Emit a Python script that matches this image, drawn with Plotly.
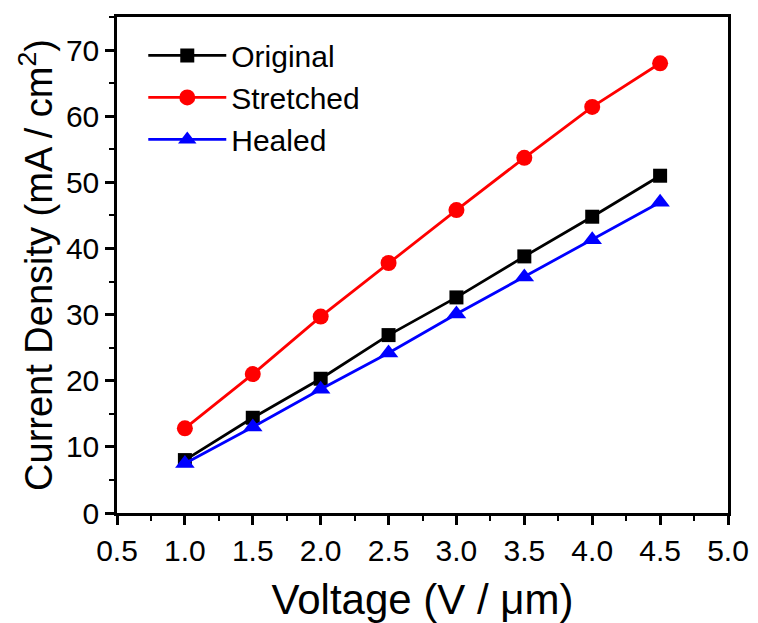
import plotly.graph_objects as go

voltage = [1.0, 1.5, 2.0, 2.5, 3.0, 3.5, 4.0, 4.5]
original = [8.0, 14.4, 20.3, 26.9, 32.6, 38.8, 44.8, 51.0]
stretched = [12.8, 21.0, 29.7, 37.8, 45.8, 53.7, 61.4, 68.0]
healed = [7.5, 13.0, 18.7, 24.2, 30.1, 35.7, 41.3, 47.0]

series = [
    ("Original", original, "#000000", "square", 14),
    ("Stretched", stretched, "#ff0000", "circle", 16),
    ("Healed", healed, "#0000ff", "triangle-up", 17),
]

fig = go.Figure()
for name, vals, color, sym, size in series:
    fig.add_trace(go.Scatter(
        x=voltage, y=vals, name=name, mode="lines+markers",
        line=dict(color=color, width=2.8),
        marker=dict(symbol=sym, size=size, color=color),
    ))

font_family = "Liberation Sans, Arial, sans-serif"
fig.update_layout(
    width=758, height=623,
    margin=dict(l=117, r=30, t=17, b=110),
    paper_bgcolor="white", plot_bgcolor="white",
    font=dict(family=font_family, color="black"),
    showlegend=True,
    legend=dict(
        x=0.043, y=0.975, xanchor="left", yanchor="top",
        font=dict(size=30, family=font_family),
        bgcolor="rgba(0,0,0,0)", itemwidth=78, tracegroupgap=0,
    ),
    xaxis=dict(
        range=[0.5, 5.0], tickvals=[0.5, 1.0, 1.5, 2.0, 2.5, 3.0, 3.5, 4.0, 4.5, 5.0],
        ticktext=["0.5", "1.0", "1.5", "2.0", "2.5", "3.0", "3.5", "4.0", "4.5", "5.0"],
        ticks="outside", ticklen=9, tickwidth=2.5, tickcolor="black",
        minor=dict(dtick=0.25, ticks="outside", ticklen=5, tickwidth=2, tickcolor="black", showgrid=False),
        showline=True, linewidth=2.5, linecolor="black", mirror=True,
        showgrid=False, zeroline=False, automargin=False,
        tickfont=dict(size=30, family=font_family),
        title=dict(text="Voltage (V / μm)", font=dict(size=42, family=font_family), standoff=20),
    ),
    yaxis=dict(
        range=[0, 75], tickvals=[0, 10, 20, 30, 40, 50, 60, 70],
        ticks="outside", ticklen=9, tickwidth=2.5, tickcolor="black",
        minor=dict(dtick=5, ticks="outside", ticklen=5, tickwidth=2, tickcolor="black", showgrid=False),
        showline=True, linewidth=2.5, linecolor="black", mirror=True,
        showgrid=False, zeroline=False, automargin=False,
        tickfont=dict(size=30, family=font_family),
        title=dict(text="Current Density (mA / cm<sup>2</sup>)", font=dict(size=38, family=font_family), standoff=2),
    ),
)

fig.write_html("out.html")
